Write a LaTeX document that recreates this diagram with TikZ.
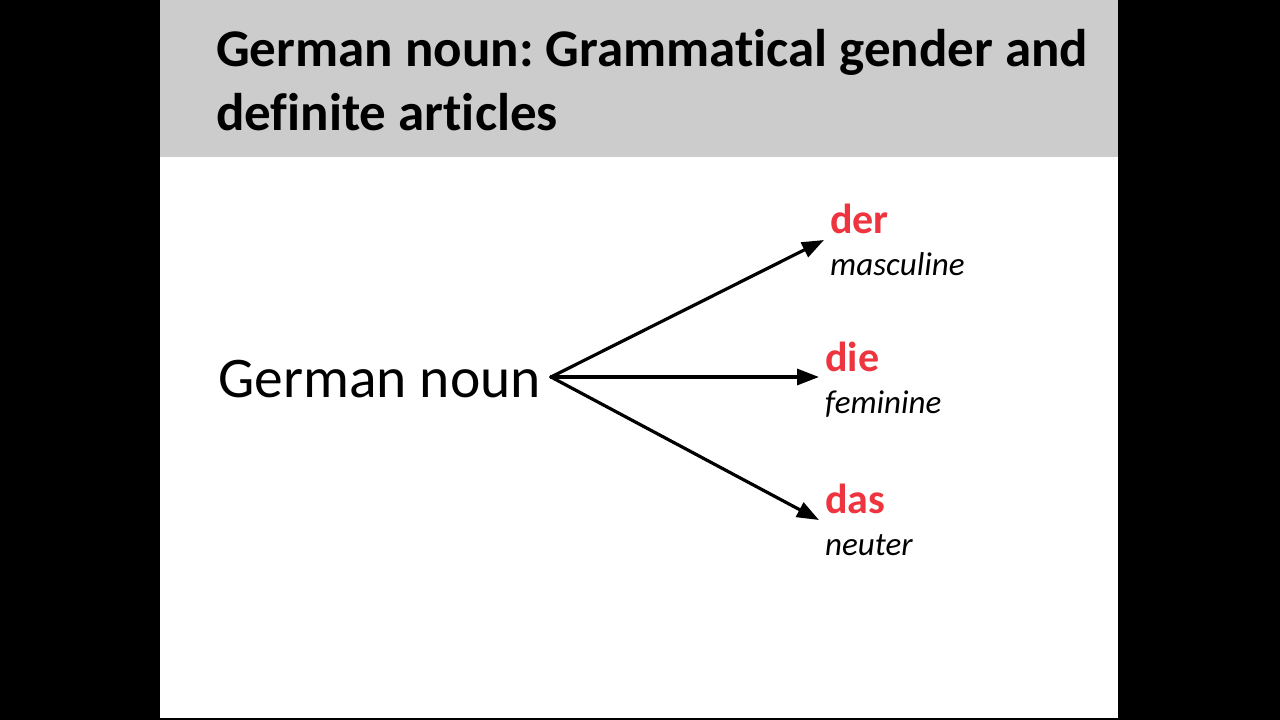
\documentclass[tikz,border=0pt]{standalone}
\usepackage{fontspec}
\setmainfont[Ligatures=NoCommon]{Carlito}
\frenchspacing
\usetikzlibrary{arrows.meta, positioning}
\definecolor{artred}{RGB}{238,52,62}
\definecolor{headgray}{RGB}{204,204,204}

\begin{document}
\begin{tikzpicture}[x=1pt, y=-1pt, >={Triangle[length=22pt,width=16pt]},
	line cap=round, line join=round,
	article/.style={anchor=west, align=left, inner sep=6pt, font=\fontsize{33}{42}\selectfont},
	branch/.style={->, line width=3.2pt}]
	
	%========================
	% Frame: black bars, slide, header
	%========================
	\fill[black] (0,0) rectangle (1280,720);
	\fill[white] (160,0) rectangle (1118,718);
	\fill[headgray] (160,0) rectangle (1118,157);
	\useasboundingbox (0,0) rectangle (1280,720);
	
	% title (base anchor sits on the last line)
	\node[anchor=base west, inner sep=0pt, align=left,
	font=\fontsize{53}{64}\selectfont\bfseries] (title) at (216,130)
	{German noun: Grammatical gender and\\definite articles};
	
	%========================
	% Noun and its three articles
	%========================
	\node[anchor=base west, inner sep=0pt, font=\fontsize{57.5}{64}\selectfont] (noun) at (218,397) {German noun};
	\coordinate (root) at (551,377);
	
	\node[article] (der) at (824,240) {{\fontsize{42}{42}\selectfont\bfseries\color{artred}der}\\\itshape masculine};
	\node[article] (die) at (819,380) {{\fontsize{42}{42}\selectfont\bfseries\color{artred}die}\\\itshape feminine};
	\node[article] (das) at (819,520) {{\fontsize{42}{42}\selectfont\bfseries\color{artred}das}\\\itshape neuter};
	
	% arrows
	\draw[branch] (root) -- (der.west);
	\draw[branch] (root) -- (root -| die.west);
	\draw[branch] (root) -- (das.west);
	
\end{tikzpicture}
\end{document}
